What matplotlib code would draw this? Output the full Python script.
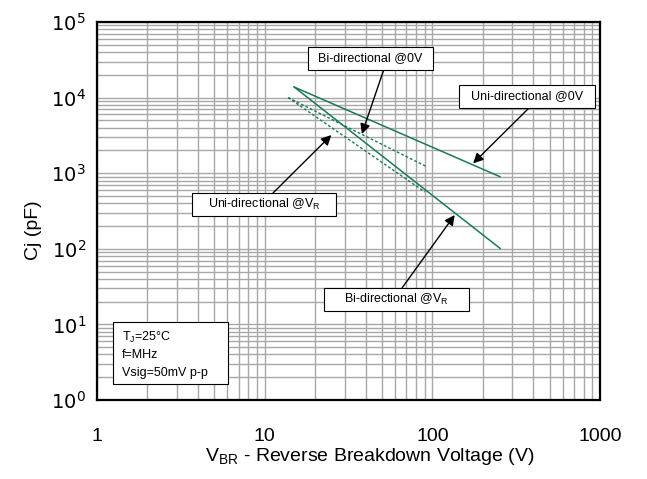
import matplotlib
matplotlib.use("Agg")
import matplotlib.pyplot as plt
from matplotlib.patches import Rectangle
from matplotlib.ticker import LogLocator, NullFormatter

plt.rcParams["font.family"] = ["Liberation Sans", "DejaVu Sans"]

# curve end points (V_BR in volts, Cj in pF)
uni_0v_v = [15.0, 253.0]
uni_0v_c = [13800.0, 900.0]
bi_vr_v = [15.0, 254.0]
bi_vr_c = [13800.0, 101.0]
bi_0v_v = [13.8, 92.5]
bi_0v_c = [10000.0, 1220.0]
uni_vr_v = [13.8, 90.3]
uni_vr_c = [10000.0, 564.0]

x_ticks = [1, 10, 100, 1000]
y_ticks = [1, 10, 100, 1000, 10000, 100000]
y_tick_labels = [r"$10^{%d}$" % i for i in range(6)]

green = "#1b7a55"
W, H = 647, 479
AX_L, AX_R, AX_T, AX_B = 97, 600, 22, 400


def px_to_axes(px, py):
    """Pixel position in the picture -> axes fraction."""
    return (px - AX_L) / (AX_R - AX_L), (AX_B - py) / (AX_B - AX_T)


fig = plt.figure(figsize=(W / 100, H / 100), dpi=100)
ax = fig.add_axes([AX_L / W, (H - AX_B) / H, (AX_R - AX_L) / W, (AX_B - AX_T) / H])
ax.set_xscale("log")
ax.set_yscale("log")
ax.set_xlim(1, 1000)
ax.set_ylim(1, 100000)

ax.xaxis.set_minor_locator(LogLocator(base=10, subs=range(2, 10), numticks=20))
ax.yaxis.set_minor_locator(LogLocator(base=10, subs=range(2, 10), numticks=20))
ax.xaxis.set_minor_formatter(NullFormatter())
ax.yaxis.set_minor_formatter(NullFormatter())
ax.grid(True, which="both", color="#a8a8a8", lw=1.0)
ax.set_axisbelow(True)

ax.set_xticks(x_ticks)
ax.set_xticklabels([str(t) for t in x_ticks])
ax.set_yticks(y_ticks)
ax.set_yticklabels(y_tick_labels)
ax.tick_params(which="both", length=0, labelsize=14)
ax.tick_params(axis="x", pad=20)
ax.tick_params(axis="y", pad=8)
for s in ax.spines.values():
    s.set_linewidth(1.6)
    s.set_color("black")

ax.plot(uni_0v_v, uni_0v_c, color=green, lw=1.1)
ax.plot(bi_vr_v, bi_vr_c, color=green, lw=1.1)
ax.plot(bi_0v_v, bi_0v_c, color=green, lw=1.0, dashes=(2, 1.5))
ax.plot(uni_vr_v, uni_vr_c, color=green, lw=1.0, dashes=(2, 1.5))

ax.set_xlabel(r"V$_{\mathregular{BR}}$ - Reverse Breakdown Voltage (V)", fontsize=14)
ax.xaxis.set_label_coords(*px_to_axes(370, 446))
ax.set_ylabel("Cj (pF)", fontsize=14)
ax.yaxis.set_label_coords(*px_to_axes(42, 230))

arrow = dict(arrowstyle="-|>", color="black", lw=1.0, mutation_scale=15, shrinkA=0, shrinkB=0)

# text, arrow tip (data), box centre (px), box size (px), arrow tail (px)
labels = [
    ("Bi-directional @0V", (38, 3300), (370, 58), (125, 23), (384, 69)),
    ("Uni-directional @0V", (175, 1350), (527, 96), (136, 23), (530, 107)),
    (r"Uni-directional @V$_{\mathregular{R}}$", (25, 3200), (264, 204), (144, 23), (273, 193)),
    (r"Bi-directional @V$_{\mathregular{R}}$", (136, 280), (396, 299), (145, 23), (402, 288)),
]
for text, tip, center, size, tail in labels:
    ax.annotate("", xy=tip, xycoords="data", xytext=px_to_axes(*tail),
                textcoords="axes fraction", arrowprops=arrow)
    x0, y0 = px_to_axes(center[0] - size[0] / 2, center[1] + size[1] / 2)
    w = size[0] / (AX_R - AX_L)
    h = size[1] / (AX_B - AX_T)
    ax.add_patch(Rectangle((x0, y0), w, h, transform=ax.transAxes,
                           fc="white", ec="black", lw=0.8, zorder=5))
    cx, cy = px_to_axes(*center)
    ax.text(cx, cy, text, transform=ax.transAxes, fontsize=9,
            ha="center", va="center", zorder=6)

x0, y0 = px_to_axes(113, 384)
ax.add_patch(Rectangle((x0, y0), 115 / (AX_R - AX_L), 62 / (AX_B - AX_T),
                       transform=ax.transAxes, fc="white", ec="black", lw=0.8, zorder=5))
info = [r"T$_{\mathregular{J}}$=25°C", "f=MHz", "Vsig=50mV p-p"]
for i, line in enumerate(info):
    tx, ty = px_to_axes(122, 337 + i * 18)
    ax.text(tx, ty, line, transform=ax.transAxes, fontsize=9,
            ha="left", va="center", zorder=6)

fig.savefig("out.png", dpi=100)
